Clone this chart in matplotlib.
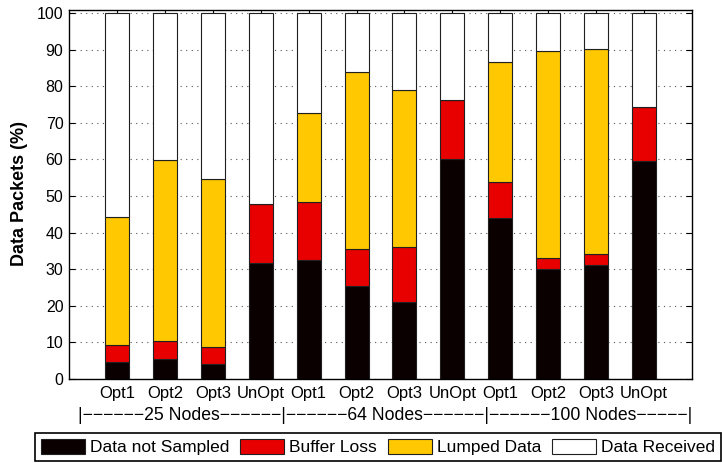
import numpy as np
import matplotlib.pyplot as plt

plt.rcParams['font.family'] = ['Liberation Sans', 'DejaVu Sans']

labels = ['Opt1', 'Opt2', 'Opt3', 'UnOpt'] * 3
not_sampled = [4.7, 5.6, 4.1, 31.6, 32.5, 25.4, 21.1, 60.0, 44.0, 30.2, 31.1, 59.5]
buffer_loss = [4.5, 4.7, 4.6, 16.1, 16.0, 10.0, 15.1, 16.2, 9.9, 3.0, 3.1, 14.9]
lumped = [35.0, 49.5, 45.9, 0.0, 24.3, 48.5, 42.8, 0.0, 32.7, 56.4, 55.9, 0.0]
received = [100 - a - b - c for a, b, c in zip(not_sampled, buffer_loss, lumped)]
groups = ['25 Nodes', '64 Nodes', '100 Nodes']

series = [
    ('Data not Sampled', not_sampled, '#0a0000'),
    ('Buffer Loss', buffer_loss, '#e80000'),
    ('Lumped Data', lumped, '#ffc800'),
    ('Data Received', received, '#ffffff'),
]

fig = plt.figure(figsize=(7.22, 4.63), dpi=100)
ax = fig.add_axes([69 / 722, 1 - 379 / 463, 623 / 722, 369.5 / 463])

x = np.arange(1, len(labels) + 1)
bottom = np.zeros(len(labels))
for name, vals, color in series:
    vals = np.array(vals)
    ax.bar(x, vals, 0.5, bottom=bottom, color=color, edgecolor='#202020',
           linewidth=0.8, label=name, zorder=2)
    bottom += vals

ax.set_xlim(0, 13)
ax.set_ylim(0, 101)
ax.set_xticks(x)
ax.set_xticklabels(labels, fontsize=12)
ax.set_yticks(range(0, 101, 10))
ax.tick_params(axis='y', labelsize=11.5, pad=4)
ax.tick_params(axis='x', pad=5)
ax.tick_params(direction='in', length=4, width=0.8, top=True, right=True)
ax.yaxis.grid(True, linestyle=(0, (1, 4)), color='#555555', linewidth=0.8, zorder=0)
ax.set_axisbelow(True)
for s in ax.spines.values():
    s.set_linewidth(1.0)

fig.text(20 / 722, 1 - 194 / 463, 'Data Packets (%)', rotation=90, fontsize=13,
         fontweight='bold', ha='center', va='center')

# group caption under the tick labels, dashes drawn with minus signs
d = '\u2212'
group_text = ('|' + d * 6 + groups[0] + d * 6 + '|' + d * 6 + groups[1]
              + d * 6 + '|' + d * 6 + groups[2] + d * 5 + '|')
fig.text(385 / 722, 1 - 415 / 463, group_text, fontsize=12.7, ha='center', va='center')

leg = fig.legend(loc='upper left', bbox_to_anchor=(35 / 722, 1 - 433 / 463), ncol=4,
                 fontsize=12.5, frameon=True, fancybox=False, framealpha=1,
                 edgecolor='black', handlelength=2.53, handleheight=0.92,
                 handletextpad=0.29, columnspacing=0.62, borderpad=0.35,
                 borderaxespad=0)
leg.get_frame().set_linewidth(1.2)

fig.savefig('out.png', dpi=100)
